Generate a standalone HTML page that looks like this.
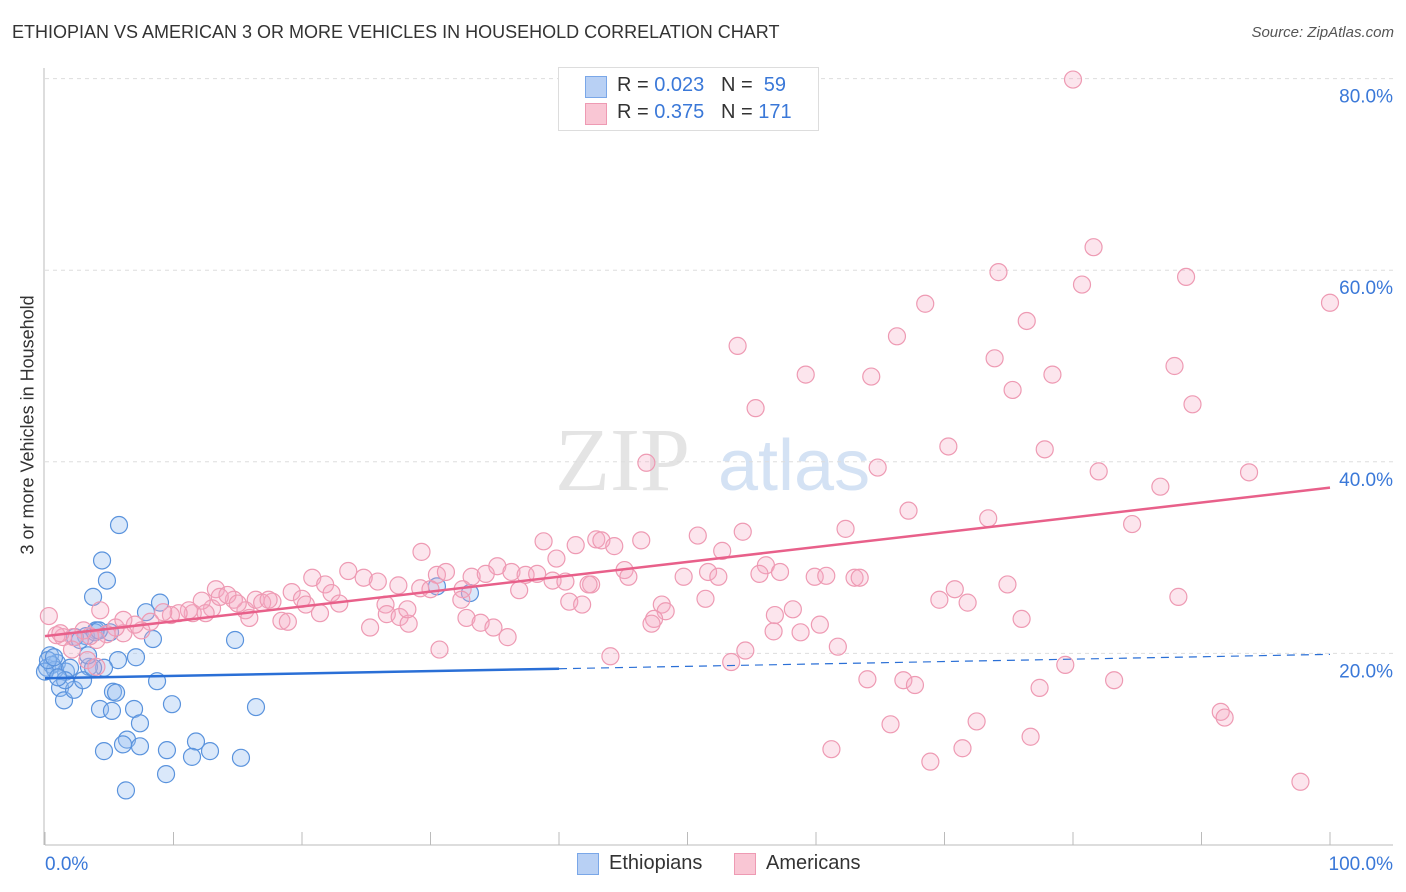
<!DOCTYPE html>
<html><head><meta charset="utf-8"><style>
body{margin:0;background:#fff;font-family:"Liberation Sans",sans-serif;}
#wrap{position:relative;width:1406px;height:892px;overflow:hidden;}
.t{position:absolute;white-space:nowrap;}
</style></head><body>
<div id="wrap">
<div class="t" style="left:12px;top:22px;font-size:18px;color:#333;">ETHIOPIAN VS AMERICAN 3 OR MORE VEHICLES IN HOUSEHOLD CORRELATION CHART</div>
<div class="t" style="right:12px;top:24px;font-size:15px;color:#555;font-style:italic;">Source: ZipAtlas.com</div>
<div class="t" style="left:-72px;top:444px;font-size:18px;color:#333;transform:rotate(-90deg);width:200px;text-align:center;">3 or more Vehicles in Household</div>
<svg id="svg" width="1406" height="892" style="position:absolute;left:0;top:0"></svg>
<div style="position:absolute;left:558px;top:67px;width:259px;height:62px;border:1px solid #ddd;background:#fff;font-size:20px;">
 <div style="position:absolute;left:26px;top:8px;width:20px;height:20px;background:#b8d0f4;border:1px solid #7aa7e8;"></div>
 <div class="t" style="left:58px;top:6px;color:#333;">R = <span style="color:#3a78d8">0.023</span>&nbsp;&nbsp;&nbsp;N = &nbsp;<span style="color:#3a78d8">59</span></div>
 <div style="position:absolute;left:26px;top:35px;width:20px;height:20px;background:#f9c6d4;border:1px solid #ee9ab3;"></div>
 <div class="t" style="left:58px;top:33px;color:#333;">R = <span style="color:#3a78d8">0.375</span>&nbsp;&nbsp;&nbsp;N = <span style="color:#3a78d8">171</span></div>
</div>
<div style="position:absolute;left:577px;top:852px;font-size:20px;color:#333;">
 <div style="position:absolute;left:0;top:1px;width:20px;height:20px;background:#b8d0f4;border:1px solid #7aa7e8;"></div>
 <div class="t" style="left:32px;top:0;">Ethiopians</div>
 <div style="position:absolute;left:157px;top:1px;width:20px;height:20px;background:#f9c6d4;border:1px solid #ee9ab3;"></div>
 <div class="t" style="left:189px;top:0;">Americans</div>
</div>
</div>
<script>
const yTicks=[20,40,60,80];
const yTickLabels=["20.0%","40.0%","60.0%","80.0%"];
const xTickLabels=["0.0%","100.0%"];
const ethX=[5.76,4.44,4.82,3.74,8.95,7.86,8.4,14.79,3.97,3.19,2.33,5.06,5.68,7.08,4.59,3.42,0.39,0.16,0.93,1.63,1.17,1.48,2.26,2.96,5.29,5.53,4.28,5.21,6.93,7.39,8.72,9.88,16.42,6.38,6.07,4.59,7.39,9.49,11.75,11.44,12.84,15.25,9.42,6.3,30.5,33.07,0.54,0.78,0.0,1.95,3.74,0.23,2.72,3.89,1.56,1.01,4.2,3.35,0.7];
const ethY=[33.4,29.7,27.6,25.9,25.3,24.3,21.5,21.4,22.4,21.8,21.7,22.2,19.3,19.6,18.5,18.6,19.8,18.5,19.0,18.1,16.4,15.1,16.2,17.2,16.0,15.9,14.2,14.0,14.2,12.7,17.1,14.7,14.4,11.0,10.5,9.8,10.3,9.9,10.8,9.2,9.8,9.1,7.4,5.7,27.0,26.3,18.8,18.3,18.1,18.5,18.5,19.3,21.4,22.2,17.2,17.5,22.4,19.8,19.6];
const amX=[80.0,81.6,74.2,88.8,80.7,100,68.5,76.4,66.3,53.9,73.9,87.9,59.2,64.3,78.4,75.3,89.3,55.3,70.3,77.8,46.8,64.8,82.0,93.7,86.8,67.2,73.4,84.6,54.3,62.3,50.8,38.8,42.9,43.3,44.3,46.4,41.3,52.7,29.3,39.8,35.2,56.1,57.2,55.6,51.6,49.7,52.4,45.1,45.4,59.9,60.8,63.0,63.4,23.6,20.8,21.8,25.9,27.5,29.2,30.5,31.2,33.2,34.3,36.3,37.4,38.3,39.5,40.5,42.5,36.9,32.5,30.0,32.4,24.8,22.3,19.2,20.0,17.7,20.3,21.4,22.9,26.5,26.6,27.6,28.3,28.2,25.3,18.4,18.9,15.6,15.9,14.7,13.0,13.3,13.6,14.2,15.0,16.4,16.9,17.4,12.2,11.5,12.5,11.2,10.4,9.8,9.2,8.2,7.5,7.0,6.1,5.5,4.8,4.0,3.5,3.0,2.2,1.4,0.9,0.3,1.2,2.1,3.3,4.0,6.1,4.3,32.8,33.9,34.9,36.0,40.8,41.8,42.3,48.0,48.3,47.4,47.2,51.4,56.8,58.2,58.8,60.3,61.7,69.6,70.8,71.8,74.9,76.0,88.2,44.0,30.7,53.4,54.5,64.0,66.8,67.7,79.4,83.2,77.4,65.8,72.5,91.5,91.8,61.2,71.4,76.7,68.9,97.7,56.7];
const amY=[79.9,62.4,59.8,59.3,58.5,56.6,56.5,54.7,53.1,52.1,50.8,50.0,49.1,48.9,49.1,47.5,46.0,45.6,41.6,41.3,39.9,39.4,39.0,38.9,37.4,34.9,34.1,33.5,32.7,33.0,32.3,31.7,31.9,31.8,31.2,31.8,31.3,30.7,30.6,29.9,29.1,29.2,28.5,28.3,28.5,28.0,28.0,28.7,28.0,28.0,28.1,27.9,27.9,28.6,27.9,27.2,27.5,27.1,26.8,28.2,28.5,28.0,28.3,28.5,28.2,28.3,27.6,27.5,27.2,26.6,26.7,26.7,25.6,27.9,26.3,26.4,25.7,25.4,25.1,24.2,25.2,25.1,24.1,23.8,23.1,24.6,22.7,23.4,23.3,24.5,23.7,25.6,24.7,26.7,25.9,26.1,25.2,25.6,25.3,25.6,25.5,24.2,24.2,24.5,24.2,24.0,24.3,23.3,22.4,23.0,22.1,22.7,22.0,21.4,21.8,22.4,21.7,21.7,21.9,23.9,22.1,20.4,19.3,18.6,23.5,24.5,23.7,23.2,22.7,21.7,25.4,25.1,27.2,25.1,24.4,23.6,23.1,25.7,24.0,24.6,22.2,23.0,20.7,25.6,26.7,25.3,27.2,23.6,25.9,19.7,20.4,19.1,20.3,17.3,17.2,16.7,18.8,17.2,16.4,12.6,12.9,13.9,13.3,10.0,10.1,11.3,8.7,6.6,22.3];
const ethTrend=[17.4,19.9];
const amTrend=[21.8,37.3];
const NS="http://www.w3.org/2000/svg";
const svg=document.getElementById('svg');
const X=v=>45+v*12.85, Y=v=>845-v*9.58;
function mk(tag,a,parent){const e=document.createElementNS(NS,tag);for(const k in a)e.setAttribute(k,a[k]);(parent||svg).appendChild(e);return e;}
// watermark
const wm=mk('text',{x:555,y:490,'font-size':90,fill:'#e4e4e4','font-family':'Liberation Serif'});wm.textContent='ZIP';


const wm2=mk('text',{x:718,y:490,'font-size':72,fill:'#d4e2f4','font-family':'Liberation Sans'});wm2.textContent='atlas';


yTicks.forEach((t,i)=>{
 const g=mk('line',{x1:45,x2:1393,y1:Y(t),y2:Y(t),stroke:'#ddd','stroke-dasharray':'4,4'});
 
 
 const l=mk('text',{x:1393,y:Y(t)+24,'text-anchor':'end','font-size':19,fill:'#3a78d8','font-family':'Liberation Sans'});l.textContent=yTickLabels[i];
 
 
});
const ax=mk('line',{x1:45,x2:1393,y1:845,y2:845,stroke:'#bbb'});


const ay=mk('line',{x1:44,x2:44,y1:68,y2:845,stroke:'#bbb'});


for(let i=0;i<=10;i++){const tk=mk('line',{x1:X(i*10),x2:X(i*10),y1:832,y2:845,stroke:'#bbb'});
 
 }
[[0,'start',45],[1,'end',1393]].forEach(([i,an,x])=>{const l=mk('text',{x:x,y:870,'text-anchor':an,'font-size':19,fill:'#3a78d8','font-family':'Liberation Sans'});l.textContent=xTickLabels[i];
 
 });
ethX.forEach((x,i)=>{const c=mk('circle',{cx:X(x),cy:Y(ethY[i]),r:8.5,fill:'rgba(150,190,240,0.35)',stroke:'#5a93dd','stroke-width':1.2});
 
 });
amX.forEach((x,i)=>{const c=mk('circle',{cx:X(x),cy:Y(amY[i]),r:8.5,fill:'rgba(245,170,195,0.3)',stroke:'#ee9ab3','stroke-width':1.2});
 
 });
const ey=x=>ethTrend[0]+(ethTrend[1]-ethTrend[0])*x/100;
const t1=mk('line',{x1:X(0),y1:Y(ey(0)),x2:X(40),y2:Y(ey(40)),stroke:'#2a6fd6','stroke-width':2.5});


const t2=mk('line',{x1:X(40),y1:Y(ey(40)),x2:X(100),y2:Y(ey(100)),stroke:'#2a6fd6','stroke-width':1.2,'stroke-dasharray':'8,6'});


const t3=mk('line',{x1:X(0),y1:Y(amTrend[0]),x2:X(100),y2:Y(amTrend[1]),stroke:'#e8608a','stroke-width':2.5});


</script>
</body></html>
